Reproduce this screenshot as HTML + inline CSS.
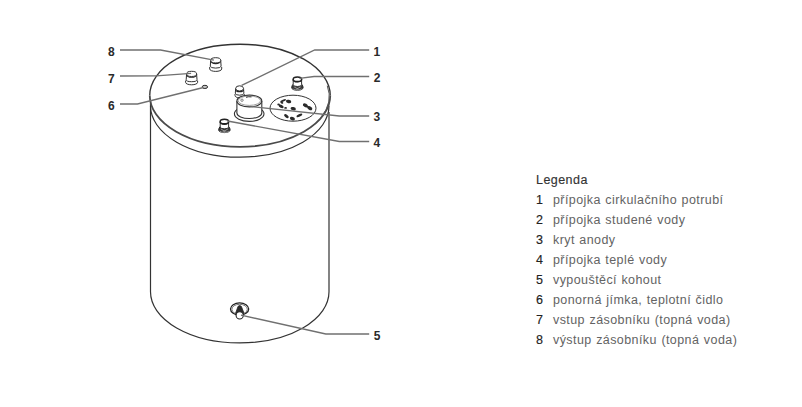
<!DOCTYPE html>
<html><head><meta charset="utf-8">
<style>
html,body{margin:0;padding:0;background:#fff;}
body{width:802px;height:407px;overflow:hidden;position:relative;font-family:"Liberation Sans",sans-serif;}
svg{position:absolute;left:0;top:0;}
.lg{position:absolute;left:536px;font-size:12.5px;color:#636363;white-space:nowrap;line-height:20px;letter-spacing:0.42px;word-spacing:0.6px;}
.lg .n{display:inline-block;width:17px;color:#222;letter-spacing:0;-webkit-text-stroke:0.15px #222;}
.lg .h{color:#333;letter-spacing:0.45px;-webkit-text-stroke:0.15px #333;}
</style></head><body>
<svg width="802" height="407" viewBox="0 0 802 407">
<g fill="none" stroke="#333" stroke-width="1.2">
<path d="M150.5 101 L150.5 291.8 A89.25 51.1 0 0 0 329 291.8 L329 112"/>
<path d="M150.5 105.85 A89.25 51.35 0 0 0 329 105.85"/>
<path d="M149.75 95.4 A90.25 51.2 0 0 1 330.25 95.4" stroke-width="1.35"/>
<path d="M149.75 95.4 A90.25 51.4 0 0 0 330.25 95.4" stroke-width="1.8" stroke="#4a4a4a"/>
<path d="M327.25 85.68 A89.2 50.6 0 0 1 320.84 117.58" stroke-width="1" stroke="#555"/>
</g>
<g>
<ellipse cx="293" cy="108.2" rx="23" ry="13" fill="none" stroke="#333" stroke-width="1"/>
<ellipse cx="288.6" cy="101.5" rx="2.7" ry="1.7" transform="rotate(10 288.6 101.5)" fill="#2a2a2a"/>
<ellipse cx="281.2" cy="106.3" rx="2.6" ry="1.5" transform="rotate(25 281.2 106.3)" fill="#2a2a2a"/>
<ellipse cx="278.6" cy="104.6" rx="1.3" ry="1" transform="rotate(0 278.6 104.6)" fill="#2a2a2a"/>
<ellipse cx="285.6" cy="107.9" rx="1.4" ry="0.9" transform="rotate(0 285.6 107.9)" fill="#2a2a2a"/>
<ellipse cx="293.2" cy="108.7" rx="2.7" ry="1.6" transform="rotate(10 293.2 108.7)" fill="#2a2a2a"/>
<ellipse cx="305.3" cy="105.3" rx="2.6" ry="1.8" transform="rotate(30 305.3 105.3)" fill="#2a2a2a"/>
<ellipse cx="309.9" cy="108.2" rx="2.6" ry="1.8" transform="rotate(30 309.9 108.2)" fill="#2a2a2a"/>
<ellipse cx="307.5" cy="106.7" rx="1.5" ry="1" transform="rotate(30 307.5 106.7)" fill="#2a2a2a"/>
<ellipse cx="286.4" cy="116.1" rx="2.7" ry="1.4" transform="rotate(38 286.4 116.1)" fill="#2a2a2a"/>
<ellipse cx="292.4" cy="118.6" rx="2.6" ry="1.7" transform="rotate(20 292.4 118.6)" fill="#2a2a2a"/>
<ellipse cx="299.4" cy="115.4" rx="3.2" ry="1.3" transform="rotate(-25 299.4 115.4)" fill="#2a2a2a"/>
<ellipse cx="283.2" cy="100.6" rx="3" ry="1" transform="rotate(-20 283.2 100.6)" fill="#2a2a2a"/>
<ellipse cx="281.8" cy="102.6" rx="1.6" ry="1" transform="rotate(30 281.8 102.6)" fill="#2a2a2a"/>
</g>
<path d="M209.7 66.9 L209.7 69 A6 2.4 0 0 0 221.7 69 L221.7 66.9" fill="#fff" stroke="#333" stroke-width="1.0"/>
<path d="M210.7 60.3 L210.3 66.1 A5.4 2 0 0 0 221.1 66.1 L220.7 60.3 Z" fill="#fff" stroke="none"/>
<path d="M210.7 60.3 L210.3 66.1 A5.4 2 0 0 0 221.1 66.1 L220.7 60.3" fill="none" stroke="#333" stroke-width="1.0"/>
<path d="M210.7 60.6 A5 3 0 0 0 220.7 60.6" fill="none" stroke="#222" stroke-width="1.3"/>
<ellipse cx="215.7" cy="60.3" rx="5" ry="2.6" fill="#fff" stroke="#333" stroke-width="1.0"/>
<path d="M185.6 80.5 L185.6 82.4 A6 2.4 0 0 0 197.6 82.4 L197.6 80.5" fill="#fff" stroke="#333" stroke-width="1.0"/>
<path d="M186.6 73.9 L186.2 79.7 A5.4 2 0 0 0 197 79.7 L196.6 73.9 Z" fill="#fff" stroke="none"/>
<path d="M186.6 73.9 L186.2 79.7 A5.4 2 0 0 0 197 79.7 L196.6 73.9" fill="none" stroke="#333" stroke-width="1.0"/>
<path d="M186.6 74.2 A5 3 0 0 0 196.6 74.2" fill="none" stroke="#222" stroke-width="1.3"/>
<ellipse cx="191.6" cy="73.9" rx="5" ry="2.6" fill="#fff" stroke="#333" stroke-width="1.0"/>
<ellipse cx="204.9" cy="86.9" rx="2.7" ry="1.6" fill="#c8c8c8" stroke="#2a2a2a" stroke-width="1"/>
<path d="M235 94 L235 95.3 A4.6 2.4 0 0 0 244.2 95.3 L244.2 94" fill="#fff" stroke="#333" stroke-width="1.0"/>
<path d="M235.7 88.4 L235.3 93.2 A4.3 2 0 0 0 243.9 93.2 L243.5 88.4 Z" fill="#fff" stroke="none"/>
<path d="M235.7 88.4 L235.3 93.2 A4.3 2 0 0 0 243.9 93.2 L243.5 88.4" fill="none" stroke="#333" stroke-width="1.0"/>
<path d="M235.7 88.7 A3.9 3 0 0 0 243.5 88.7" fill="none" stroke="#222" stroke-width="1.3"/>
<ellipse cx="239.6" cy="88.4" rx="3.9" ry="2.6" fill="#fff" stroke="#333" stroke-width="1.0"/>
<path d="M293.2 84.2 Q291.7 85.7 291.7 87.7 A5.7 2.6 0 0 0 303.1 87.7 Q303.1 85.7 301.6 84.2 Z" fill="#3a3a3a" stroke="#222" stroke-width="1.0"/>
<path d="M293.9 86.7 L298.4 89.3 M300.9 86.7 L296.4 89.3 M292.9 88.5 A4.5 1.6 0 0 0 301.9 88.5" fill="none" stroke="#bbb" stroke-width="0.7"/>
<path d="M293.2 79.2 L293.2 84.7 A4.2 1.8 0 0 0 301.6 84.7 L301.6 79.2 Z" fill="#fff" stroke="#333" stroke-width="1.0"/>
<path d="M293.2 79.5 A4.2 2.4 0 0 0 301.6 79.5" fill="none" stroke="#222" stroke-width="1.4"/>
<ellipse cx="297.4" cy="79.2" rx="4.2" ry="2.3" fill="#fff" stroke="#222" stroke-width="1.5"/>
<path d="M220.2 126.5 Q218.7 128 218.7 130 A5.7 2.6 0 0 0 230.1 130 Q230.1 128 228.6 126.5 Z" fill="#3a3a3a" stroke="#222" stroke-width="1.0"/>
<path d="M220.9 129 L225.4 131.6 M227.9 129 L223.4 131.6 M219.9 130.8 A4.5 1.6 0 0 0 228.9 130.8" fill="none" stroke="#bbb" stroke-width="0.7"/>
<path d="M220.2 121.5 L220.2 127 A4.2 1.8 0 0 0 228.6 127 L228.6 121.5 Z" fill="#fff" stroke="#333" stroke-width="1.0"/>
<path d="M220.2 121.8 A4.2 2.4 0 0 0 228.6 121.8" fill="none" stroke="#222" stroke-width="1.4"/>
<ellipse cx="224.4" cy="121.5" rx="4.2" ry="2.3" fill="#fff" stroke="#222" stroke-width="1.5"/>
<g stroke="#333" fill="#fff">
<ellipse cx="249.2" cy="113.8" rx="14.8" ry="7.6" stroke-width="1.1"/>
<path d="M236.9 112.5 A12.6 5.3 0 0 0 261.5 112.5" fill="none" stroke-width="0.8" stroke="#666"/>
<path d="M236.9 101.5 L236.9 113 A12.45 5.5 0 0 0 261.8 113 L261.8 101.5 Z" stroke-width="1.1"/>
<ellipse cx="249.35" cy="101" rx="12.45" ry="5.9" stroke-width="1.1"/>
<ellipse cx="249.35" cy="100.7" rx="11.2" ry="4.7" stroke-width="0.8" stroke="#888"/>
<circle cx="242" cy="100.2" r="1.2" stroke-width="0.7" stroke="#555"/>
<path d="M246 97.3 Q248.5 96.4 251.5 96.9" fill="none" stroke="#333" stroke-width="1"/>
</g>
<g stroke="#222" fill="#fff">
<ellipse cx="239.6" cy="309" rx="9.1" ry="6.1" stroke-width="1.3"/>
<ellipse cx="239.6" cy="309.3" rx="7.7" ry="5" stroke-width="0.9" stroke="#666"/>
<path d="M235.6 313.2 L238 306.5 Q239.7 304.3 241.4 306.5 L244 313.2 Z" fill="#2a2a2a" stroke-width="0.8"/>
<circle cx="239.7" cy="315.4" r="3.6" stroke-width="1.1"/>
</g>
<g fill="none" stroke="#707070" stroke-width="1.35">
<polyline points="120,50 160.6,50 213.9,60.1"/>
<polyline points="120,76 156.3,75.9 191.1,73.3"/>
<polyline points="120,104 137.5,104 203.4,87.5"/>
<polyline points="241.6,85.4 314.7,50 369.2,50"/>
<polyline points="299.5,78.4 314.1,76.5 369.2,76.5"/>
<polyline points="251.5,106.6 339.3,116 369.2,116"/>
<polyline points="227.5,121 339.3,141.5 369.2,141.5"/>
<polyline points="241,315.1 325.8,334 369.2,334"/>
</g>
<g font-family="Liberation Sans" font-weight="bold" font-size="12" fill="#2a2a2a">
<text x="108" y="56.2">8</text>
<text x="108" y="82.5">7</text>
<text x="108" y="110.2">6</text>
<text x="373.6" y="55.6">1</text>
<text x="373.8" y="82">2</text>
<text x="373.6" y="121">3</text>
<text x="373.6" y="147">4</text>
<text x="373.8" y="339.5">5</text>
</g>
</svg>
<div class="lg" style="top:170px;"><span class="h">Legenda</span></div>
<div class="lg" style="top:190px;"><span class="n">1</span>přípojka cirkulačního potrubí</div>
<div class="lg" style="top:210px;"><span class="n">2</span>přípojka studené vody</div>
<div class="lg" style="top:230px;"><span class="n">3</span>kryt anody</div>
<div class="lg" style="top:250px;"><span class="n">4</span>přípojka teplé vody</div>
<div class="lg" style="top:270px;"><span class="n">5</span>vypouštěcí kohout</div>
<div class="lg" style="top:290px;"><span class="n">6</span>ponorná jímka, teplotní čidlo</div>
<div class="lg" style="top:310px;"><span class="n">7</span>vstup zásobníku (topná voda)</div>
<div class="lg" style="top:330px;"><span class="n">8</span>výstup zásobníku (topná voda)</div>
</body></html>
